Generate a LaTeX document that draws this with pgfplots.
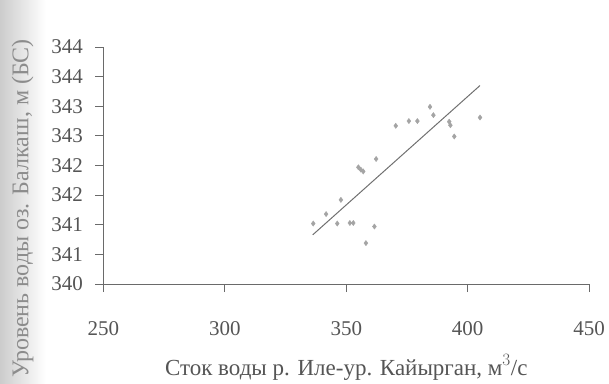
\documentclass[border=0pt]{standalone}
\usepackage{pgfplots}
\pgfplotsset{compat=1.18}
\usepackage{fontspec}
\setmainfont{Liberation Serif}
\definecolor{axgray}{HTML}{6A6A6A}
\definecolor{txgray}{HTML}{555555}
\definecolor{ylgray}{HTML}{8C8C8C}
\definecolor{ptgray}{HTML}{A4A4A4}
\definecolor{lngray}{HTML}{707070}
\begin{document}
\begin{tikzpicture}
\useasboundingbox (-103.5pt,-99pt) rectangle (505.5pt,284pt);
\shade[left color=black!20, right color=white] (-103.5pt,-99pt) rectangle (-58pt,284pt);
\begin{axis}[
  scale only axis,
  width=485.5pt, height=237pt,
  at={(0,0)}, anchor=south west,
  xmin=250, xmax=450, ymin=340, ymax=344,
  axis lines*=left,
  axis line style={color=axgray, line width=0.9pt},
  xtick={250,300,350,400,450},
  ytick={340,340.5,341,341.5,342,342.5,343,343.5,344},
  yticklabels={340,341,341,342,342,343,343,344,344},
  tick align=outside,
  major tick length=8pt,
  tick style={color=axgray, line width=0.9pt},
  /pgf/number format/assume math mode=true,
  ticklabel style={font=\fontsize{21}{25}\selectfont, text=txgray},
  xticklabel style={yshift=-26pt},
  yticklabel style={xshift=-9pt},
  clip=false,
  xlabel={Сток воды р. Иле-ур. Кайырган, м$^{3}$/с},
  xlabel style={at={([yshift=-91pt]axis description cs:0.5,0)}, anchor=base, font=\fontsize{23}{27}\selectfont, text=txgray},
  ylabel={Уровень воды оз. Балкаш, м (БС)},
  ylabel style={at={([xshift=-81pt,yshift=-43pt]axis description cs:0,0.5)}, anchor=center, font=\fontsize{24}{28}\selectfont, text=ylgray},
]
\addplot[only marks, mark=diamond*, mark size=2.6pt, color=ptgray, fill=ptgray] coordinates {
(336.4,341.02) (341.7,341.18) (346.3,341.02) (347.8,341.42) (351.5,341.03)
(352.9,341.03) (355.0,341.97) (357.0,341.90) (358.1,340.69) (361.6,340.97)
(362.3,342.11) (370.4,342.67) (375.8,342.75) (379.3,342.75) (384.5,342.99)
(385.9,342.85) (392.4,342.74) (394.5,342.49) (405.1,342.81) (356.0,341.93)
(392.9,342.68)
};
\addplot[color=lngray, line width=1pt] coordinates {(336.2,340.83) (405.1,343.35)};
\end{axis}
\end{tikzpicture}
\end{document}
